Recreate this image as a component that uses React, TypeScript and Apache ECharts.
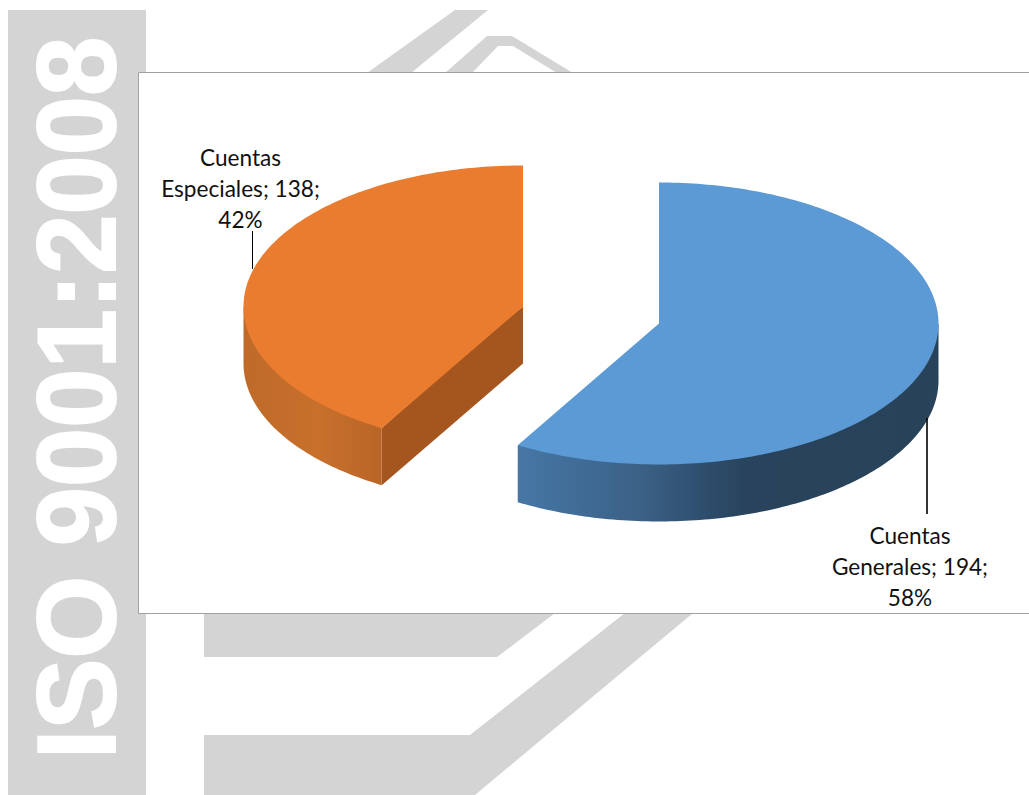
import React, { useEffect, useRef } from "react";
import * as echarts from "echarts";

const categories = ["Cuentas Generales", "Cuentas Especiales"];
const values = [194, 138];
const sliceColors = ["#5b9ad5", "#ea7c30"];
const watermark = "ISO 9001:2008";

const W = 1029;
const H = 795;
const GRAY = "#d4d4d4";
const RX = 279.5;
const RY = 141;
const DEPTH = 57;
const centers = [
  [659, 323.5],
  [523, 306.5],
];
const labelPos = [
  { x: 910, y: 566 },
  { x: 240.5, y: 188 },
];
const leaders = [
  { x: 927, y1: 418, y2: 514, w: 1.6 },
  { x: 252.5, y1: 231, y2: 269, w: 1 },
];
const sideStops = [
  [
    { offset: 0, color: "#4677a6" },
    { offset: 0.29, color: "#3b6186" },
    { offset: 0.43, color: "#2f4f6f" },
    { offset: 0.55, color: "#28435b" },
    { offset: 1, color: "#28425a" },
  ],
  [
    { offset: 0, color: "#bf6a29" },
    { offset: 0.55, color: "#c8702c" },
    { offset: 1, color: "#b86527" },
  ],
];
const cutColors = ["#2c5070", "#a5561f"];

const rad = (d: number) => (d * Math.PI) / 180;

function arcPoints(cx: number, cy: number, a0: number, a1: number, shrink = 0) {
  const pts: number[][] = [];
  const steps = Math.max(2, Math.ceil(Math.abs(a1 - a0)));
  for (let i = 0; i <= steps; i++) {
    const t = rad(a0 + ((a1 - a0) * i) / steps);
    pts.push([
      cx + (RX - shrink) * Math.sin(t),
      cy - (RY - shrink) * Math.cos(t),
    ]);
  }
  return pts;
}

function renderItem(params: any, api: any) {
  const i = params.dataIndex;
  const total = values.reduce((a, b) => a + b, 0);
  const before = values.slice(0, i).reduce((a, b) => a + b, 0);
  const a0 = (before / total) * 360;
  const a1 = ((before + api.value(0)) / total) * 360;
  const [cx, cy] = centers[i];
  const children: any[] = [];

  // cut wall, visible when the first radius looks towards the viewer
  if (a0 > 180 && a0 < 360) {
    const e = arcPoints(cx, cy, a0, a0)[0];
    children.push({
      type: "polygon",
      shape: {
        points: [
          [cx, cy],
          [(cx + e[0]) / 2, (cy + e[1]) / 2 - 3],
          e,
          [e[0], e[1] + DEPTH],
          [cx, cy + DEPTH],
        ],
      },
      style: { fill: cutColors[i] },
    });
  }
  // outer wall, between 90 and 270 degrees
  const w0 = Math.max(a0, 90);
  const w1 = Math.min(a1, 270);
  if (w1 > w0) {
    const top = arcPoints(cx, cy, w0, w1);
    const under = arcPoints(cx, cy, w0, w1, 2);
    const bottom = top.map((p) => [p[0], p[1] + DEPTH]).reverse();
    const xs = top.map((p) => p[0]);
    const x0 = Math.min(...xs);
    const x1 = Math.max(...xs);
    children.push({
      type: "polygon",
      shape: {
        points: [top[0], ...under.slice(1, -1), top[top.length - 1], ...bottom],
      },
      style: {
        fill: new echarts.graphic.LinearGradient(x0, 0, x1, 0, sideStops[i], true),
      },
    });
  }
  // top face
  children.push({
    type: "polygon",
    shape: { points: [[cx, cy], ...arcPoints(cx, cy, a0, a1)] },
    style: { fill: sliceColors[i] },
  });
  // leader
  const l = leaders[i];
  children.push({
    type: "line",
    shape: { x1: l.x, y1: l.y1, x2: l.x, y2: l.y2 },
    style: { stroke: "#000", lineWidth: l.w },
  });
  // label
  const pct = Math.round((api.value(0) / total) * 100);
  const name = categories[i].split(" ");
  children.push({
    type: "text",
    style: {
      text: `${name[0]}\n${name[1]}; ${api.value(0)};\n${pct}%`,
      x: labelPos[i].x,
      y: labelPos[i].y,
      align: "center",
      verticalAlign: "middle",
      fill: "#111",
      font: '22.6px Lato, "Open Sans", sans-serif',
      lineHeight: 31,
    },
  });
  return { type: "group", children };
}

const gray = (points: number[][]) => ({
  type: "polygon",
  shape: { points },
  style: { fill: GRAY },
  silent: true,
});

export default function App() {
  const ref = useRef<HTMLDivElement>(null);
  useEffect(() => {
    const chart = echarts.init(ref.current!, null, { renderer: "svg" });
    chart.setOption({
      animation: false,
      backgroundColor: "#fff",
      graphic: [
        { type: "rect", shape: { x: 8, y: 10, width: 138, height: 785 }, style: { fill: GRAY }, silent: true },
        {
          type: "text",
          x: 77,
          y: 398,
          rotation: Math.PI / 2,
          scaleX: 0.96,
          style: {
            text: watermark,
            x: 0,
            y: 0,
            align: "center",
            verticalAlign: "middle",
            fill: "#fff",
            stroke: "#fff",
            lineWidth: 2,
            font: 'bold 111px "Liberation Sans", Arial, sans-serif',
          },
          silent: true,
        },
        gray([[455, 10], [488, 10], [411, 73], [367, 73]]),
        gray([[445, 73], [487, 36], [512, 36], [573, 73], [557, 73], [513, 46], [498, 46], [472, 73]]),
        gray([[204, 613], [555, 613], [497, 657], [204, 657]]),
        gray([[204, 735], [470, 735], [625, 613], [693, 613], [475, 795], [204, 795]]),
        {
          type: "rect",
          shape: { x: 138.5, y: 72.5, width: 1000, height: 541 },
          style: { fill: "#fff", stroke: "#a0a0a0", lineWidth: 1 },
          silent: true,
        },
      ],
      series: [
        {
          type: "custom",
          coordinateSystem: "none",
          silent: true,
          renderItem,
          data: values.map((v, i) => ({ name: categories[i], value: [v] })),
        },
      ],
    });
    return () => chart.dispose();
  }, []);
  return (
    <div
      ref={ref}
      style={{ position: "fixed", left: 0, top: 0, width: W, height: H }}
    />
  );
}
